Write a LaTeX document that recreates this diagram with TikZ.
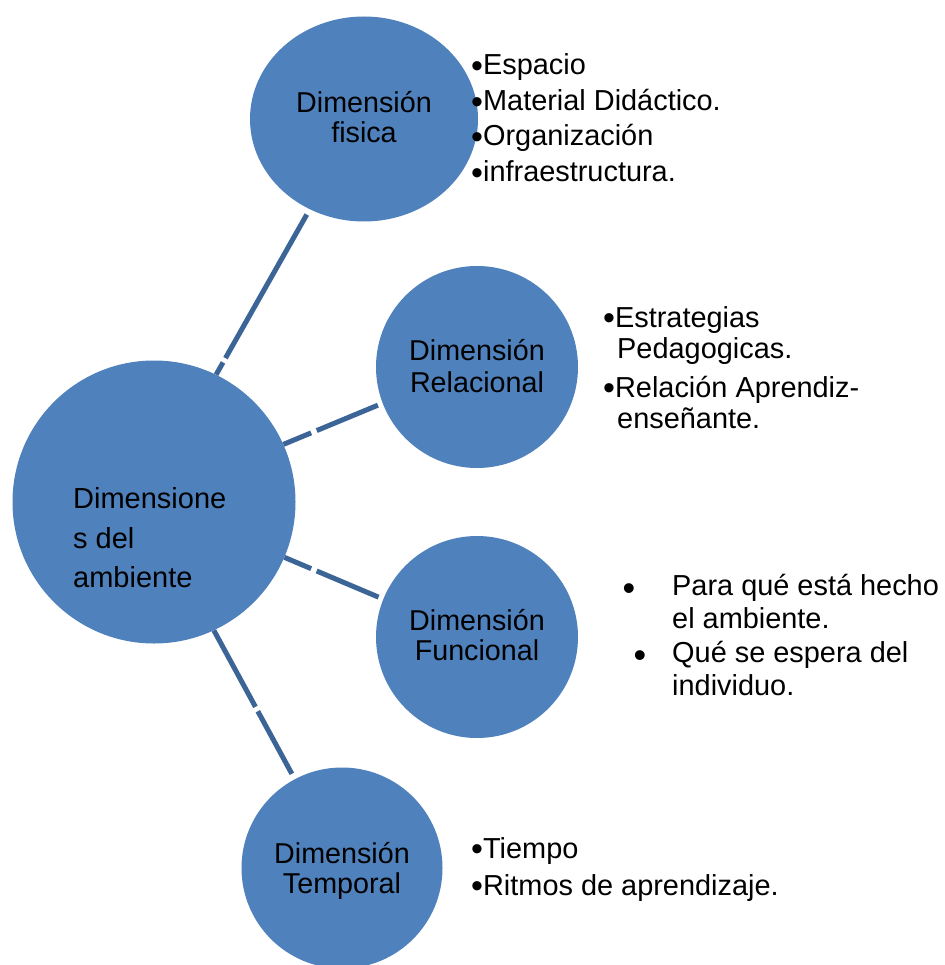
\documentclass[tikz,border=0pt]{standalone}
\usepackage{fontspec}
\setmainfont{Liberation Sans}
\usetikzlibrary{shapes.geometric,calc}
\definecolor{cfill}{HTML}{4F81BD}
\definecolor{cline}{HTML}{3B6497}
\newcommand\mybul{\raisebox{-2.5pt}{\fontsize{34pt}{30pt}\selectfont •}}
\begin{document}
\begin{tikzpicture}[x=1pt,y=-1pt,
  dimcircle/.style={circle,fill=cfill,draw=none,inner sep=0pt,minimum size=202pt},
  conn/.style={draw=cline,line width=5pt},
  ctext/.style={anchor=base,inner sep=0pt,font=\fontsize{28.7pt}{30pt}\selectfont},
  ltext/.style={anchor=base west,inner sep=0pt,font=\fontsize{29pt}{30pt}\selectfont},
  item/.style={anchor=base west,inner sep=0pt,font=\fontsize{28.9pt}{30pt}\selectfont},
  bul/.style={anchor=base,inner sep=0pt,font=\fontsize{36pt}{30pt}\selectfont}
]
\useasboundingbox[fill=white] (0,0) rectangle (944,965);
\clip (0,0) rectangle (944,965);

% circles
\node[dimcircle, minimum size=283pt] (c) at (154,502) {};
\node[dimcircle, ellipse, minimum width=228pt, minimum height=205pt] (f) at (364,119) {};
\node[dimcircle] (r) at (477,367) {};
\node[dimcircle] (fu) at (477,637) {};
\node[dimcircle, minimum size=201pt] (t) at (342,868) {};

% circle texts
\node[ltext] (c1) at (73,508) {Dimensione};
\node[ltext] (c2) at (73,548) {s del};
\node[ltext] (c3) at (73,587) {ambiente};

\node[ctext] (f1) at (364,113) {Dimensión};
\node[ctext] (f2) at (364,143) {fisica};
\node[ctext] (r1) at (477,360) {Dimensión};
\node[ctext] (r2) at (477,392) {Relacional};
\node[ctext] (fu1) at (477,630) {Dimensión};
\node[ctext] (fu2) at (477,660) {Funcional};
\node[ctext] (t1) at (342,863) {Dimensión};
\node[ctext] (t2) at (342,893) {Temporal};

% connectors
\draw[conn, dash pattern=on 14pt off 5pt on 400pt, shorten >=6pt] (c.64.7) -- (f.239.7);
\draw[conn, dash pattern=on 30pt off 6pt on 400pt, shorten >=5pt] (c.24.2) -- (r.201.5);
\draw[conn, dash pattern=on 29pt off 6pt on 400pt, shorten >=5pt] (c.-23.6) -- (fu.158);
\draw[conn, dash pattern=on 87pt off 5pt on 400pt, shorten >=6pt] (c.-65.6) -- (t.118.7);

% lists
\node[item] (la1) at (471,75) {\mybul Espacio};
\node[item] (la2) at (471,111) {\mybul Material Didáctico.};
\node[item] (la3) at (471,146) {\mybul Organización};
\node[item] (la4) at (471,182) {\mybul infraestructura.};

\node[item] (lb1) at (603,327) {\mybul Estrategias};
\node[item] (lb2) at (617,358) {Pedagogicas.};
\node[item] (lb3) at (603,397) {\mybul Relación Aprendiz-};
\node[item] (lb4) at (617,428) {enseñante.};

\node[bul] (bc1) at (629,600) {•};
\node[bul] (bc2) at (640,667) {•};
\node[item] (lc1) at (672,595) {Para qué está hecho};
\node[item] (lc2) at (672,628) {el ambiente.};
\node[item] (lc3) at (672,662) {Qué se espera del};
\node[item] (lc4) at (672,695) {individuo.};

\node[item] (ld1) at (471,858) {\mybul Tiempo};
\node[item] (ld2) at (471,895) {\mybul Ritmos de aprendizaje.};
\end{tikzpicture}
\end{document}
